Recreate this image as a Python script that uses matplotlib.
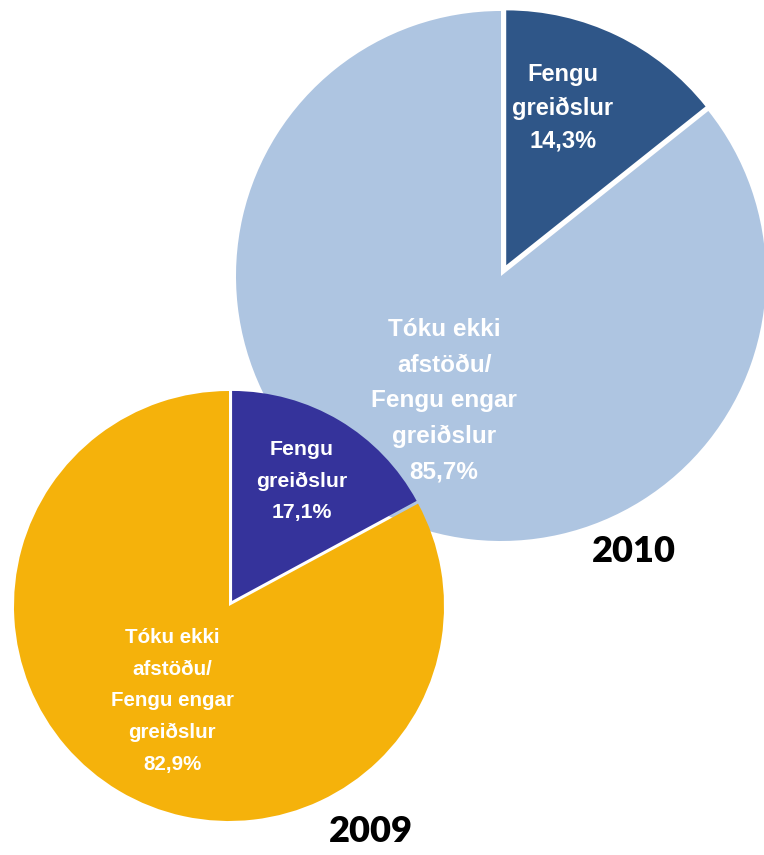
import matplotlib
matplotlib.use("Agg")
import matplotlib.pyplot as plt

W, H = 764, 855

years = ["2010", "2009"]
labels_small = ["Fengu\ngreiðslur", "Fengu\ngreiðslur"]
labels_large = ["Tóku ekki\nafstöðu/\nFengu engar\ngreiðslur", "Tóku ekki\nafstöðu/\nFengu engar\ngreiðslur"]
values_2010 = [14.3, 85.7]
values_2009 = [17.1, 82.9]

colors_2010 = ["#2f5688", "#aec5e1"]
colors_2009 = ["#35339b", "#f5b20b"]

fig = plt.figure(figsize=(W / 100, H / 100), dpi=100)
ax = fig.add_axes([0, 0, 1, 1])

lab_font = ["Liberation Sans", "DejaVu Sans"]

def fmt(v):
    return f"{v:.1f}".replace(".", ",") + "%"

def draw_pie(values, colors, cx, cy, r, explode_px, small_off, large_off, fs_small, fs_large, ls_small, ls_large):
    wedges, _ = ax.pie(values, colors=colors, startangle=90, counterclock=False,
                       center=(cx, H - cy), radius=r, explode=explode_px,
                       wedgeprops=dict(linewidth=0), frame=True)
    # exploded slice keeps the outer rim of the pie
    wedges[0].set_radius(r - explode_px[0] * 0.85)
    ax.text(cx + small_off[0], H - cy - small_off[1],
            f"{labels_small[0]}\n{fmt(values[0])}", ha="center", va="center",
            color="white", fontsize=fs_small, fontweight="bold", family=lab_font,
            linespacing=ls_small)
    ax.text(cx + large_off[0], H - cy - large_off[1],
            f"{labels_large[0]}\n{fmt(values[1])}", ha="center", va="center",
            color="white", fontsize=fs_large, fontweight="bold", family=lab_font,
            linespacing=ls_large)

# 2010 pie (behind)
draw_pie(values_2010, colors_2010, 501, 276, 265, [12, 0],
         (62, -168), (-57, 125), 17, 17.5, 1.55, 1.7)
# 2009 pie (front)
draw_pie(values_2009, colors_2009, 229, 606, 215, [6, 0],
         (73, -125), (-57, 95), 15.3, 14.8, 1.82, 1.85)

ax.text(634, H - 552, years[0], ha="center", va="center", fontsize=26,
        fontweight="heavy", family=["Lato", "DejaVu Sans"], color="black")
ax.text(371, H - 831, years[1], ha="center", va="center", fontsize=26,
        fontweight="heavy", family=["Lato", "DejaVu Sans"], color="black")

ax.set_xlim(0, W)
ax.set_ylim(0, H)
ax.set_aspect("equal")
ax.axis("off")

fig.savefig("out.png", dpi=100, facecolor="white")
